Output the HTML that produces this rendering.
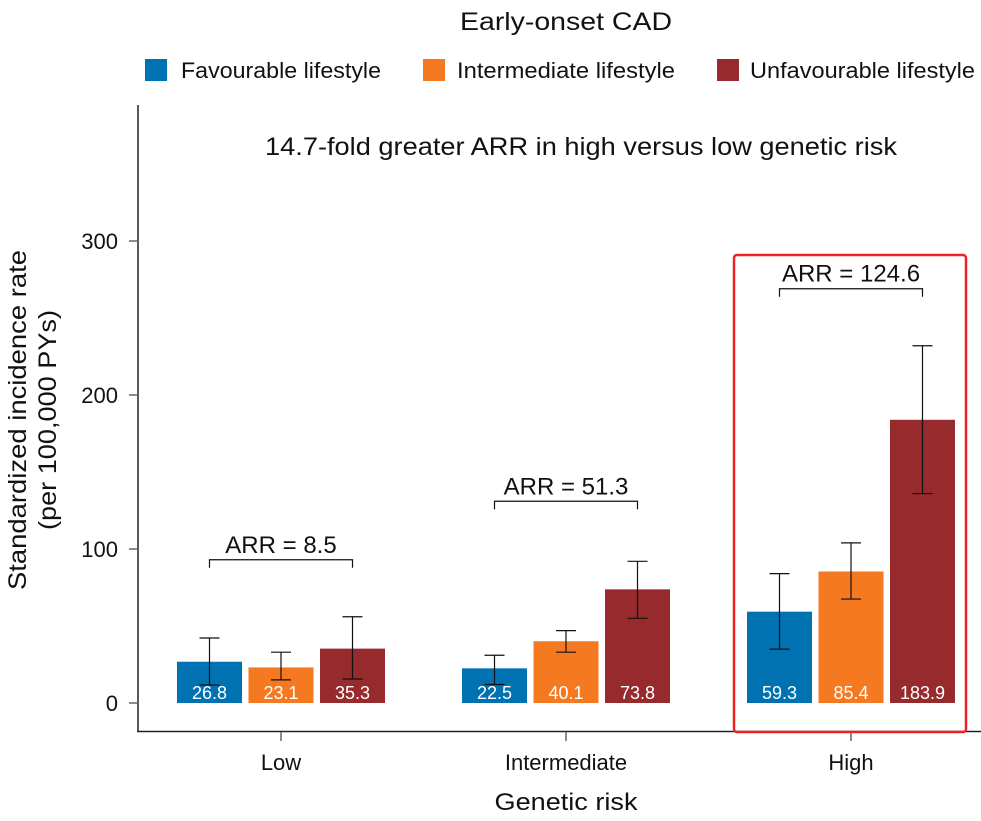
<!DOCTYPE html>
<html><head><meta charset="utf-8"><style>
body{margin:0;background:#fff;}
svg{display:block;font-family:"Liberation Sans",sans-serif;}
</style></head><body>
<svg id="chart" width="981" height="821" viewBox="0 0 981 821">
<text x="566" y="30" font-size="25" text-anchor="middle" fill="#111" textLength="212" lengthAdjust="spacingAndGlyphs">Early-onset CAD</text>
<g>
<rect x="145" y="59" width="22" height="22" fill="#0072b2"/>
<text x="181" y="78" font-size="22" fill="#111" textLength="200" lengthAdjust="spacingAndGlyphs">Favourable lifestyle</text>
<rect x="423" y="59" width="22" height="22" fill="#f47920"/>
<text x="457" y="78" font-size="22" fill="#111" textLength="218" lengthAdjust="spacingAndGlyphs">Intermediate lifestyle</text>
<rect x="717" y="59" width="22" height="22" fill="#962a2d"/>
<text x="750" y="78" font-size="22" fill="#111" textLength="225" lengthAdjust="spacingAndGlyphs">Unfavourable lifestyle</text>
</g>
<text x="581" y="155" font-size="25" text-anchor="middle" fill="#111" textLength="632" lengthAdjust="spacingAndGlyphs">14.7-fold greater ARR in high versus low genetic risk</text>
<line x1="138" y1="105" x2="138" y2="732" stroke="#222" stroke-width="1.5"/>
<line x1="137" y1="731.5" x2="981" y2="731.5" stroke="#222" stroke-width="1.5"/>
<g transform="translate(26,420) rotate(-90)">
<text x="0" y="0" font-size="25" text-anchor="middle" fill="#111" textLength="340" lengthAdjust="spacingAndGlyphs">Standardized incidence rate</text>
<text x="0" y="30" font-size="25" text-anchor="middle" fill="#111" textLength="220" lengthAdjust="spacingAndGlyphs">(per 100,000 PYs)</text>
</g>
<text x="566" y="810" font-size="24" text-anchor="middle" fill="#111" textLength="143" lengthAdjust="spacingAndGlyphs">Genetic risk</text>
<g id="ticks"></g>
<g id="bars"></g>
<rect x="734" y="255" width="232" height="477" rx="3" fill="none" stroke="#ee2222" stroke-width="2.5"/>
</svg>
<script>
const categories=["Low","Intermediate","High"];
const series=["Favourable","Intermediate","Unfavourable"];
const favourable=[26.8,22.5,59.3];
const intermediate=[23.1,40.1,85.4];
const unfavourable=[35.3,73.8,183.9];
const favLo=[11.7,12,35], favHi=[42.2,31,84];
const intLo=[15,33,67.5], intHi=[33,47,104];
const unfLo=[15.6,55,136], unfHi=[56,92,232];
const arrLabels=["ARR = 8.5","ARR = 51.3","ARR = 124.6"];
const arrLevel=[93,131,269];
const yTicks=[0,100,200,300];
const colors=["#0072b2","#f47920","#962a2d"];
const NS="http://www.w3.org/2000/svg";
function y(v){return 703-v*1.54;}
function xc(i){return 281+i*285;}
function mk(t,a,p){const e=document.createElementNS(NS,t);for(const k in a)e.setAttribute(k,a[k]);p.appendChild(e);return e;}
const tg=document.getElementById('ticks'),bg=document.getElementById('bars');
yTicks.forEach(v=>{
 const l=mk('line',{x1:129,x2:138,y1:y(v),y2:y(v),stroke:'#666','stroke-width':1.5},tg);
 
 
 const t=mk('text',{x:118,y:y(v)+8,'font-size':22,'text-anchor':'end',fill:'#111'},tg);
 t.textContent=v;
 
 
});
const vals=[favourable,intermediate,unfavourable],lo=[favLo,intLo,unfLo],hi=[favHi,intHi,unfHi];
categories.forEach((c,i)=>{
 const tk=mk('line',{x1:xc(i),x2:xc(i),y1:732,y2:741,stroke:'#666','stroke-width':1.5},tg);
 
 
 const t=mk('text',{x:xc(i),y:770,'font-size':22,'text-anchor':'middle',fill:'#111'},tg);
 t.textContent=c;
 
 
 for(let s=0;s<3;s++){
  const cx=xc(i)+(s-1)*71.5;
  const r=mk('rect',{x:cx-32.5,y:y(vals[s][i]),width:65,height:y(0)-y(vals[s][i]),fill:colors[s]},bg);
  
  
  const e=mk('path',{d:`M${cx},${y(lo[s][i])}V${y(hi[s][i])}M${cx-10},${y(hi[s][i])}H${cx+10}M${cx-10},${y(lo[s][i])}H${cx+10}`,stroke:'#111','stroke-width':1.2,fill:'none'},bg);
  
  
  const lt=mk('text',{x:cx,y:699,'font-size':18,'text-anchor':'middle',fill:'#fff'},bg);
  lt.textContent=vals[s][i].toFixed(1);
  
  
 }
 const x1=xc(i)-71.5,x2=xc(i)+71.5,by=y(arrLevel[i]);
 const br=mk('path',{d:`M${x1},${by+8}V${by}H${x2}V${by+8}`,stroke:'#111','stroke-width':1.2,fill:'none'},bg);
 
 
 const at=mk('text',{x:xc(i),y:by-7,'font-size':24,'text-anchor':'middle',fill:'#111'},bg);
 at.textContent=arrLabels[i];
 
 
});
</script>
</body></html>
